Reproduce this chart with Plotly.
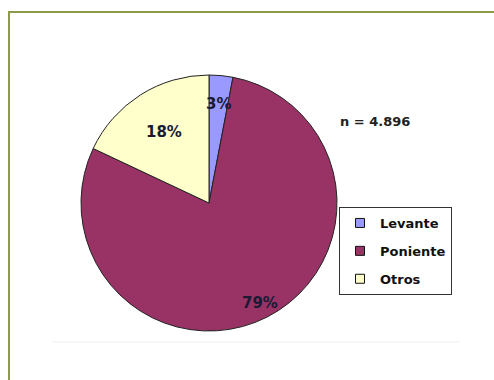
import math
import plotly.graph_objects as go

# Share of the total by zone
zones = ["Levante", "Poniente", "Otros"]
shares = [3, 79, 18]
slice_colors = ["#9999FF", "#993366", "#FFFFCC"]
sample_note = "n = 4.896"

# Radial placement of each percentage label (fraction of the radius)
label_radius = [0.78, 0.88, 0.66]

W, H = 494, 380
ml, mt = 9, 12
pw, ph = W - ml, H - mt

# Pie box in pixels
left, right, top, bottom = 81, 337, 75, 331
cx, cy = (left + right) / 2, (top + bottom) / 2
R = (right - left) / 2


def px_x(x):
    return (x - ml) / pw


def px_y(y):
    return (H - y) / ph


fig = go.Figure(
    go.Pie(
        labels=zones,
        values=shares,
        sort=False,
        direction="clockwise",
        rotation=0,
        marker=dict(colors=slice_colors, line=dict(color="#222222", width=1)),
        textinfo="none",
        domain=dict(x=[px_x(left), px_x(right)], y=[px_y(bottom), px_y(top)]),
        hoverinfo="label+percent",
        showlegend=False,
    )
)

# Percentage labels at the middle angle of each slice
total = sum(shares)
cum = 0
for s, rf in zip(shares, label_radius):
    mid = (cum + s / 2) / total * 2 * math.pi  # clockwise from 12 o'clock
    cum += s
    lx = cx + rf * R * math.sin(mid)
    ly = cy - rf * R * math.cos(mid)
    fig.add_annotation(
        text=f"<b>{round(s / total * 100)}%</b>",
        xref="paper", yref="paper",
        x=px_x(lx), y=px_y(ly), xanchor="center", yanchor="middle",
        showarrow=False,
        font=dict(family="DejaVu Sans", size=15, color="#1a1a33"),
    )

# Legend entries, one group per zone so the rows are spaced out
for name, col in zip(zones, slice_colors):
    fig.add_trace(
        go.Scatter(
            x=[None], y=[None], mode="markers", name=name, legendgroup=name,
            marker=dict(symbol="square", size=9, color=col,
                        line=dict(color="#111111", width=1)),
            hoverinfo="skip",
        )
    )

# Outer frame
fig.add_shape(
    type="rect", xref="paper", yref="paper",
    x0=0, y0=-0.05, x1=1.05, y1=1,
    line=dict(color="#8E9A48", width=2),
    fillcolor="rgba(0,0,0,0)",
)
# Faint base line under the pie
fig.add_shape(
    type="line", xref="paper", yref="paper",
    x0=px_x(52), x1=px_x(460), y0=px_y(342), y1=px_y(342),
    line=dict(color="#EEEEEE", width=1),
)

fig.add_annotation(
    text="<b>" + sample_note + "</b>",
    xref="paper", yref="paper",
    x=px_x(375), y=px_y(121), xanchor="center", yanchor="middle",
    showarrow=False,
    font=dict(family="DejaVu Sans", size=13, color="#222222"),
)

fig.update_layout(
    width=W, height=H,
    margin=dict(l=ml, r=0, t=mt, b=0),
    paper_bgcolor="white",
    plot_bgcolor="white",
    xaxis=dict(visible=False),
    yaxis=dict(visible=False),
    showlegend=True,
    legend=dict(
        x=px_x(339), y=px_y(207), xanchor="left", yanchor="top",
        bordercolor="#333333", borderwidth=1,
        bgcolor="white",
        tracegroupgap=8,
        itemwidth=30,
        font=dict(family="DejaVu Sans", size=13, color="#111111", weight="bold"),
    ),
)

fig.write_html("out.html")
